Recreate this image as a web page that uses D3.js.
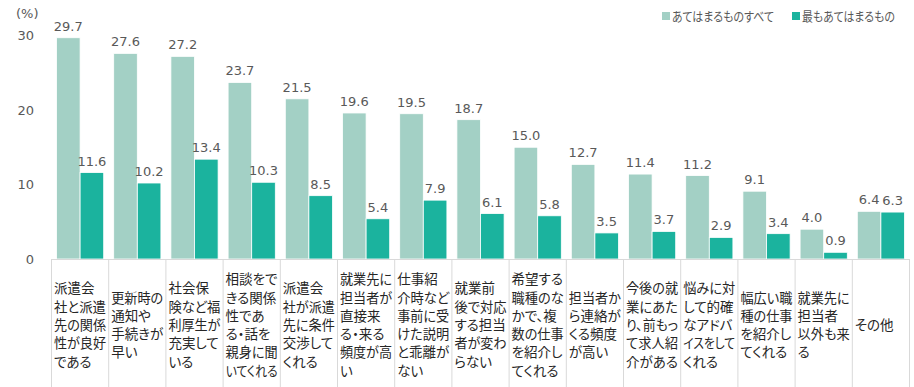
<!DOCTYPE html>
<html lang="ja">
<head>
    <meta charset="UTF-8">
    <title>派遣会社に関する評価</title>
    <script src="https://cdnjs.cloudflare.com/ajax/libs/d3/7.8.5/d3.min.js" charset="utf-8"></script>
    <style>
        body { margin: 0; background: #fff; }
        svg { display: block; }
        .num { font-family: "DejaVu Sans", Verdana, sans-serif; font-size: 13px; fill: #595959; }
        .cat { font-family: "Noto Sans CJK JP", sans-serif; font-size: 13.5px; fill: #262626; }
        .legend { font-family: "Noto Sans CJK JP", sans-serif; font-size: 13px; fill: #595959; }
    </style>
</head>
<body>
<svg width="914" height="387"></svg>
<script>
    // category labels, split the same way as in the table under the bars
    var categories = [
        ["派遣会", "社と派遣", "先の関係", "性が良好", "である"],
        ["更新時の", "通知や", "手続きが", "早い"],
        ["社会保", "険など福", "利厚生が", "充実して", "いる"],
        ["相談をで", "きる関係", "性であ", "る・話を", "親身に聞", "いてくれる"],
        ["派遣会", "社が派遣", "先に条件", "交渉して", "くれる"],
        ["就業先に", "担当者が", "直接来", "る・来る", "頻度が高", "い"],
        ["仕事紹", "介時など", "事前に受", "けた説明", "と乖離が", "ない"],
        ["就業前", "後で対応", "する担当", "者が変わ", "らない"],
        ["希望する", "職種のな", "かで、複", "数の仕事", "を紹介し", "てくれる"],
        ["担当者か", "ら連絡が", "くる頻度", "が高い"],
        ["今後の就", "業にあた", "り、前もっ", "て求人紹", "介がある"],
        ["悩みに対", "して的確", "なアドバ", "イスをして", "くれる"],
        ["幅広い職", "種の仕事", "を紹介し", "てくれる"],
        ["就業先に", "担当者", "以外も来", "る"],
        ["その他"]
    ];
    var seriesNames = ["あてはまるものすべて", "最もあてはまるもの"];
    var allValues  = [29.7, 27.6, 27.2, 23.7, 21.5, 19.6, 19.5, 18.7, 15.0, 12.7, 11.4, 11.2, 9.1, 4.0, 6.4];
    var mostValues = [11.6, 10.2, 13.4, 10.3, 8.5, 5.4, 7.9, 6.1, 5.8, 3.5, 3.7, 2.9, 3.4, 0.9, 6.3];
    var yTicks = [0, 10, 20, 30];
    var colors = ["#a3d0c5", "#1bb39e"];

    var svg = d3.select("svg");

    var keys = categories.map(function (d, i) { return i; });

    var x = d3.scaleBand()
            .domain(keys)
            .range([51, 909]);

    var xInner = d3.scaleBand()
            .domain([0, 1])
            .range([5.5, x.bandwidth() - 4.5]);

    var y = d3.scaleLinear()
            .domain([0, 30])
            .range([259, 35.5]);

    // squeeze a text so it is no wider than maxW (the chart font has narrow kana)
    function fitText(sel, maxW) {
        sel.each(function () {
            this.style.fontFeatureSettings = '"palt" 1';
            var w = this.getComputedTextLength();
            if (w > maxW) {
                d3.select(this)
                        .attr("textLength", maxW)
                        .attr("lengthAdjust", "spacingAndGlyphs");
            }
        });
    }

    // y tick labels (no axis line)
    var yAxis = svg.append("g")
            .attr("transform", "translate(34,0)")
            .call(d3.axisLeft(y).tickValues(yTicks).tickSize(0).tickPadding(0));
    yAxis.select(".domain").remove();
    yAxis.selectAll("text")
            .attr("class", "num")
            .attr("fill", null)
            .attr("font-family", null)
            .attr("font-size", null);

    svg.append("text")
            .attr("class", "num")
            .attr("x", 16)
            .attr("y", 18)
            .text("(%)");

    var data = keys.map(function (i) {
        return [allValues[i], mostValues[i]];
    });

    var groups = svg.selectAll(".barGroup")
            .data(data)
            .enter()
            .append("g")
            .classed("barGroup", true)
            .attr("transform", function (d, i) {
                return "translate(" + x(i) + ",0)";
            });

    groups.selectAll("rect")
            .data(function (d) { return d; })
            .enter()
            .append("rect")
            .attr("x", function (d, j) { return xInner(j); })
            .attr("width", xInner.bandwidth())
            .attr("y", function (d) { return y(d); })
            .attr("height", function (d) { return y(0) - y(d); })
            .attr("fill", function (d, j) { return colors[j]; })
            .attr("stroke", "#fff")
            .attr("stroke-width", 0.8);

    groups.selectAll("text.num")
            .data(function (d) { return d; })
            .enter()
            .append("text")
            .attr("class", "num")
            .attr("text-anchor", "middle")
            .attr("x", function (d, j) { return xInner(j) + xInner.bandwidth() / 2; })
            .attr("y", function (d) { return y(d) - 7; })
            .text(function (d) { return d.toFixed(1); });

    // table lines under the chart
    svg.append("line")
            .attr("x1", x.range()[0]).attr("x2", x.range()[1])
            .attr("y1", y(0) + 0.5).attr("y2", y(0) + 0.5)
            .attr("stroke", "#d9d9d9");

    svg.selectAll(".divider")
            .data(keys.concat([keys.length]))
            .enter()
            .append("line")
            .attr("class", "divider")
            .attr("x1", function (d) { return x.range()[0] + d * x.step() + 0.5; })
            .attr("x2", function (d) { return x.range()[0] + d * x.step() + 0.5; })
            .attr("y1", y(0))
            .attr("y2", 387)
            .attr("stroke", "#d9d9d9");

    var lineH = 18.3;
    var labelMid = 330;
    svg.selectAll(".catLabel")
            .data(categories)
            .enter()
            .append("g")
            .attr("class", "catLabel")
            .each(function (lines, i) {
                var top = labelMid - (lines.length - 1) * lineH / 2;
                d3.select(this).selectAll("text")
                        .data(lines)
                        .enter()
                        .append("text")
                        .attr("class", "cat")
                        .attr("x", x(i) + 3)
                        .attr("y", function (d, k) { return top + k * lineH; })
                        .text(function (d) { return d; })
                        .call(fitText, 52);
            });

    // legend
    var legendX = [662, 792];
    var legendW = [102, 93];
    var legend = svg.selectAll(".legendItem")
            .data(seriesNames)
            .enter()
            .append("g")
            .attr("class", "legendItem")
            .attr("transform", function (d, i) { return "translate(" + legendX[i] + ",0)"; });
    legend.append("rect")
            .attr("y", 12)
            .attr("width", 8)
            .attr("height", 8)
            .attr("fill", function (d, i) { return colors[i]; });
    legend.append("text")
            .attr("class", "legend")
            .attr("x", 10)
            .attr("y", 21)
            .text(function (d) { return d; })
            .each(function (d, i) { d3.select(this).call(fitText, legendW[i]); });
</script>
</body>
</html>
